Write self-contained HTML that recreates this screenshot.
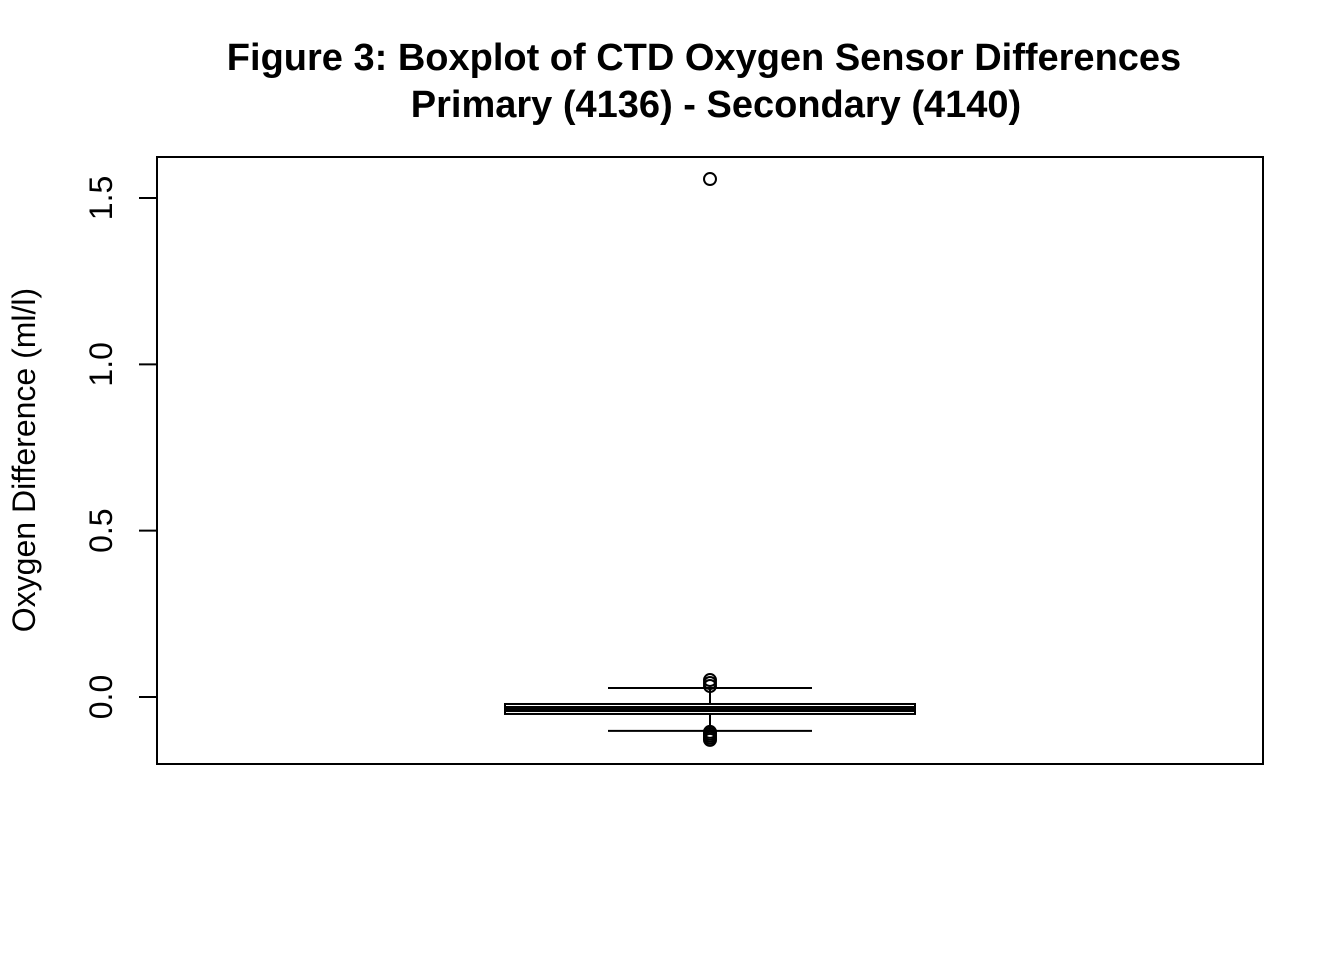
<!DOCTYPE html>
<html><head><meta charset="utf-8"><style>
html,body{margin:0;padding:0;background:#fff;}
svg{display:block;font-family:"Liberation Sans",Arial,sans-serif;}
</style></head><body>
<svg id="chart" width="1344" height="960" viewBox="0 0 1344 960">
<text x="704" y="70" text-anchor="middle" font-size="38" font-weight="bold">Figure 3: Boxplot of CTD Oxygen Sensor Differences</text>
<text x="716" y="117" text-anchor="middle" font-size="38" font-weight="bold">Primary (4136) - Secondary (4140)</text>
<rect x="157" y="157" width="1106" height="607" fill="none" stroke="#000" stroke-width="2"/>
<text transform="translate(35,460) rotate(-90)" text-anchor="middle" font-size="32">Oxygen Difference (ml/l)</text>
<g id="yaxis"></g>
<g id="marks"></g>
</svg>
<script>
const yTicks=[0,0.5,1.0,1.5];
const yTickLabels=["0.0","0.5","1.0","1.5"];
const stats=[-0.102,-0.051,-0.036,-0.021,0.027]; // lo whisker, Q1, median, Q3, hi whisker
const outliers=[1.557,0.051,0.042,0.033,-0.105,-0.111,-0.117,-0.123,-0.129];
const NS="http://www.w3.org/2000/svg";
function y(v){return 697-332.67*v;}
const cx=710, boxHalf=205, whiskHalf=102;
function mk(tag,attrs,parent){const e=document.createElementNS(NS,tag);for(const k in attrs)e.setAttribute(k,attrs[k]);parent.appendChild(e);return e;}
const ya=document.getElementById('yaxis');
yTicks.forEach((t,i)=>{
  const l=mk('line',{x1:139,x2:157,y1:y(t),y2:y(t),stroke:'#000','stroke-width':2},ya);
  
  
  const tx=mk('text',{transform:`translate(112,${y(t)}) rotate(-90)`,'text-anchor':'middle','font-size':32},ya);
  tx.textContent=yTickLabels[i];
  
  
});
const m=document.getElementById('marks');
const [lo,q1,med,q3,hi]=stats;
let e;
e=mk('line',{x1:cx,x2:cx,y1:y(hi),y2:y(q3),stroke:'#000','stroke-width':2},m);


e=mk('line',{x1:cx,x2:cx,y1:y(q1),y2:y(lo),stroke:'#000','stroke-width':2},m);


e=mk('line',{x1:cx-whiskHalf,x2:cx+whiskHalf,y1:y(hi),y2:y(hi),stroke:'#000','stroke-width':2},m);


e=mk('line',{x1:cx-whiskHalf,x2:cx+whiskHalf,y1:y(lo),y2:y(lo),stroke:'#000','stroke-width':2},m);


e=mk('rect',{x:cx-boxHalf,y:y(q3),width:2*boxHalf,height:y(q1)-y(q3),fill:'#fff',stroke:'#000','stroke-width':2},m);


e=mk('line',{x1:cx-boxHalf,x2:cx+boxHalf,y1:y(med),y2:y(med),stroke:'#000','stroke-width':6},m);


outliers.forEach(v=>{
  const c=mk('circle',{cx:cx,cy:y(v),r:6,fill:'none',stroke:'#000','stroke-width':2},m);
  
  
});
</script>
</body></html>
